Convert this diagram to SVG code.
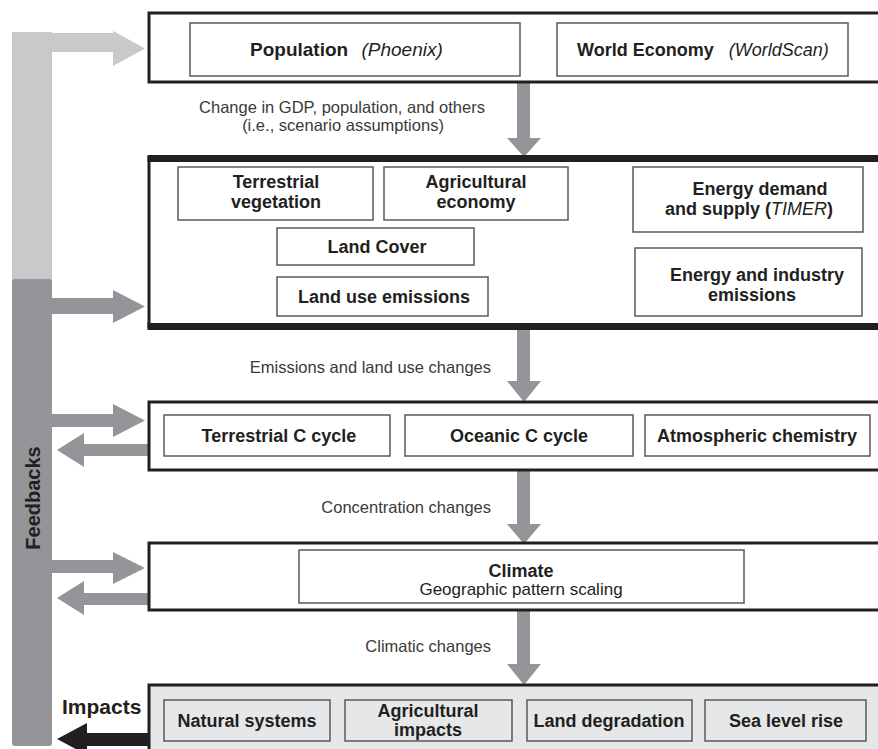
<svg xmlns="http://www.w3.org/2000/svg" width="878" height="749" viewBox="0 0 878 749">
<style>
.outer{fill:#fff;stroke:#231f20;stroke-width:3}
.inner{fill:#fff;stroke:#58595b;stroke-width:1.5}
.innerg{fill:#e6e7e8;stroke:#58595b;stroke-width:1.5}
.b{font-family:"Liberation Sans",Arial,sans-serif;font-weight:bold;font-size:18px;fill:#231f20;text-anchor:middle}
.i{font-family:"Liberation Sans",Arial,sans-serif;font-style:italic;font-weight:normal;font-size:18px;fill:#231f20}
.r{font-family:"Liberation Sans",Arial,sans-serif;font-size:16.5px;fill:#3a3a3a}
.dk{fill:#939598}
.lt{fill:#c8c9cb}
</style>
<rect width="878" height="749" fill="#fff"/>
<g id="feedbacks">
<rect class="lt" x="12" y="32" width="40" height="250"/>
<rect class="dk" x="12" y="279" width="40" height="467" rx="3"/>
<text class="b" transform="translate(40,498) rotate(-90)" style="font-size:20px">Feedbacks</text>
</g>
<g id="connectors">
<polygon class="lt" points="52,33 113,33 113,31 145,48.5 113,66 113,52 52,52"/>
<polygon class="dk" points="52,298 113,298 113,290 145,306.5 113,323 113,314 52,314"/>
<polygon class="dk" points="52,414 113,414 113,404 145,420.5 113,437 113,427 52,427"/>
<polygon class="dk" points="149,444 84,444 84,433 57,450 84,467 84,456 149,456"/>
<polygon class="dk" points="52,560 113,560 113,552 145,568 113,584 113,573 52,573"/>
<polygon class="dk" points="149,593 84,593 84,581 57,598 84,615 84,605 149,605"/>
<polygon fill="#231f20" points="149,733 87,733 87,723 57,739 87,755 87,746 149,746"/>
<polygon class="dk" points="517,83 530,83 530,138 541,138 524,157 507,138 517,138"/>
<polygon class="dk" points="517,330 530,330 530,381 541,381 524,402 507,381 517,381"/>
<polygon class="dk" points="517,470 530,470 530,524 541,524 524,544 507,524 517,524"/>
<polygon class="dk" points="517,610 530,610 530,664 541,664 524,685 507,664 517,664"/>
<text class="r" x="342" y="113" text-anchor="middle">Change in GDP, population, and others</text>
<text class="r" x="343" y="131" text-anchor="middle">(i.e., scenario assumptions)</text>
<text class="r" x="491" y="373" text-anchor="end">Emissions and land use changes</text>
<text class="r" x="491" y="513" text-anchor="end">Concentration changes</text>
<text class="r" x="491" y="652" text-anchor="end">Climatic changes</text>
<text class="b" x="62" y="714" style="text-anchor:start;font-size:21px">Impacts</text>
</g>
<g id="scenario">
<rect class="outer" x="149" y="13" width="740" height="69"/>
<g id="population">
<rect class="inner" x="190" y="23" width="330" height="53"/>
<text class="b" x="250" y="56" style="text-anchor:start;font-size:19px">Population <tspan class="i" dx="8" style="font-size:19px">(Phoenix)</tspan></text>
</g>
<g id="world-economy">
<rect class="inner" x="557" y="23" width="291" height="53"/>
<text class="b" x="577" y="56" style="text-anchor:start">World Economy <tspan class="i" dx="10">(WorldScan)</tspan></text>
</g>
</g>
<g id="land-energy">
<rect class="outer" x="149" y="158" width="740" height="169"/>
<rect fill="#231f20" x="147.5" y="155" width="740" height="7"/>
<rect fill="#231f20" x="147.5" y="323" width="740" height="7"/>
<g id="terrestrial-vegetation"><rect class="inner" x="178" y="167" width="195" height="53"/>
<text class="b" x="276" y="188">Terrestrial</text><text class="b" x="276" y="208">vegetation</text></g>
<g id="agricultural-economy"><rect class="inner" x="384" y="167" width="184" height="53"/>
<text class="b" x="476" y="188">Agricultural</text><text class="b" x="476" y="208">economy</text></g>
<g id="energy-demand"><rect class="inner" x="633" y="167" width="230" height="65"/>
<text class="b" x="760" y="195">Energy demand</text><text class="b" x="749" y="215">and supply (<tspan class="i" style="font-weight:normal">TIMER</tspan>)</text></g>
<g id="land-cover"><rect class="inner" x="277" y="228" width="197" height="37"/>
<text class="b" x="377" y="253">Land Cover</text></g>
<g id="land-use-emissions"><rect class="inner" x="277" y="277" width="211" height="39"/>
<text class="b" x="384" y="303">Land use emissions</text></g>
<g id="energy-industry-emissions"><rect class="inner" x="635" y="248" width="227" height="68"/>
<text class="b" x="757" y="281">Energy and industry</text><text class="b" x="752" y="301">emissions</text></g>
</g>
<g id="carbon">
<rect class="outer" x="149" y="402" width="740" height="68"/>
<g id="terrestrial-c"><rect class="inner" x="164" y="415" width="226" height="41"/>
<text class="b" x="279" y="442">Terrestrial C cycle</text></g>
<g id="oceanic-c"><rect class="inner" x="405" y="415" width="228" height="41"/>
<text class="b" x="519" y="442">Oceanic C cycle</text></g>
<g id="atmospheric"><rect class="inner" x="645" y="415" width="225" height="41"/>
<text class="b" x="757" y="442">Atmospheric chemistry</text></g>
</g>
<g id="climate-layer">
<rect class="outer" x="149" y="543" width="740" height="67"/>
<g id="climate"><rect class="inner" x="299" y="550" width="445" height="53"/>
<text class="b" x="521" y="577">Climate</text>
<text class="r" x="521" y="595" text-anchor="middle" style="font-size:17px;fill:#231f20">Geographic pattern scaling</text></g>
</g>
<g id="impacts">
<rect class="outer" x="149" y="685" width="740" height="80" style="fill:#e6e7e8"/>
<g id="natural-systems"><rect class="innerg" x="164" y="700" width="166" height="41"/>
<text class="b" x="247" y="727">Natural systems</text></g>
<g id="agricultural-impacts"><rect class="innerg" x="345" y="700" width="167" height="41"/>
<text class="b" x="428" y="717">Agricultural</text><text class="b" x="428" y="736">impacts</text></g>
<g id="land-degradation"><rect class="innerg" x="527" y="700" width="165" height="41"/>
<text class="b" x="609" y="727">Land degradation</text></g>
<g id="sea-level"><rect class="innerg" x="705" y="700" width="161" height="41"/>
<text class="b" x="786" y="727">Sea level rise</text></g>
</g>
</svg>
